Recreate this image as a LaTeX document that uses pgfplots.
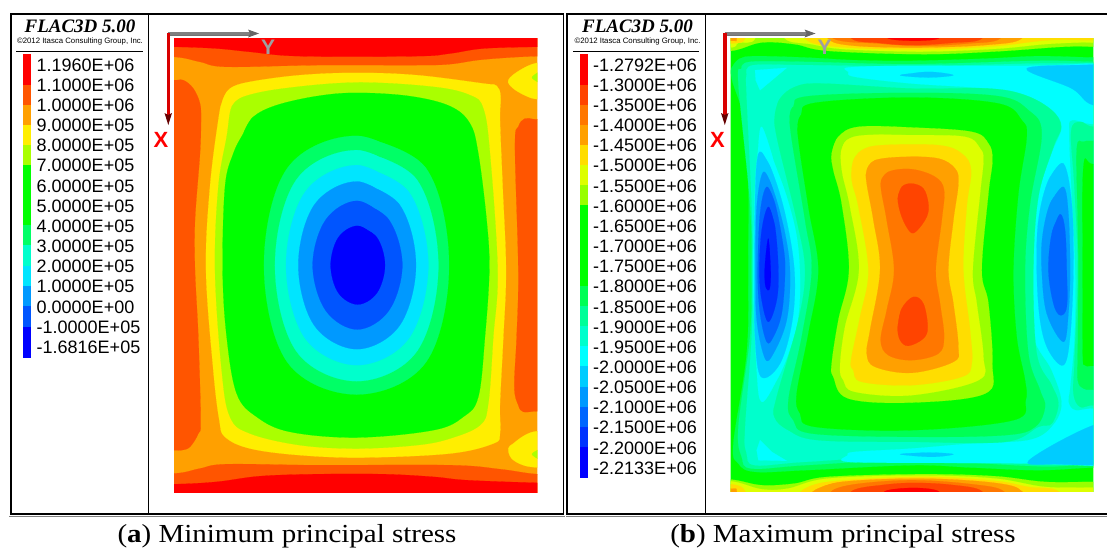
\documentclass[border=0pt]{standalone}
\usepackage{pgfplots}
\pgfplotsset{compat=1.18}
\usepackage{fontspec}
\setmainfont{Liberation Sans}
\newfontfamily\tms{Liberation Serif}
\usetikzlibrary{arrows.meta}
\def\dc#1{\definecolor{h#1}{HTML}{#1}}
\dc{FF0000}\dc{FF5500}\dc{FFA000}\dc{FFEE00}\dc{AAFF00}\dc{00FF00}\dc{00FF66}\dc{00FFCC}\dc{00E5FF}\dc{0099FF}\dc{0055FF}\dc{0000FF}
\dc{FF4400}\dc{FF7700}\dc{FFDD00}\dc{DDFF00}\dc{99FF00}\dc{00FF55}\dc{00FF99}\dc{00FFFF}\dc{00CCFF}\dc{0066FF}\dc{0033FF}
% smooth closed contour region: the first two points are repeated at the end, so the curve closes without a kink
\def\arx#1;(#2)(#3)#4\end{\addplot[fill=h#1,draw=h#1,line width=.15pt,smooth,tension=.6] coordinates {(#2)(#3)#4(#2)(#3)};}
\newcommand\ar[2]{\arx#1;#2\end}
% straight-edged region
\newcommand\pg[2]{\addplot[fill=h#1,draw=h#1,line width=.15pt] coordinates {#2} -- cycle;}
\pgfplotsset{panel/.style={hide axis,scale only axis,y dir=reverse,clip=true,anchor=north west}}
\begin{document}
\begin{tikzpicture}[x=1pt,y=1pt]
\useasboundingbox (0,0) rectangle (1107,-549);
% legends
\begin{axis}[panel,at={(0pt,0pt)},width=1107pt,height=549pt,xmin=0,xmax=1107,ymin=0,ymax=549]
\pg{FF0000}{(23,54)(30,54)(30,85)(23,85)}
\pg{FF5500}{(23,85)(30,85)(30,105)(23,105)}
\pg{FFA000}{(23,105)(30,105)(30,125)(23,125)}
\pg{FFEE00}{(23,125)(30,125)(30,145)(23,145)}
\pg{AAFF00}{(23,145)(30,145)(30,165)(23,165)}
\pg{00FF00}{(23,165)(30,165)(30,225)(23,225)}
\pg{00FF66}{(23,225)(30,225)(30,245)(23,245)}
\pg{00FFCC}{(23,245)(30,245)(30,266)(23,266)}
\pg{00E5FF}{(23,266)(30,266)(30,286)(23,286)}
\pg{0099FF}{(23,286)(30,286)(30,306)(23,306)}
\pg{0055FF}{(23,306)(30,306)(30,327)(23,327)}
\pg{0000FF}{(23,327)(30,327)(30,357)(23,357)}
\pg{FF0000}{(580,54)(587,54)(587,85)(580,85)}
\pg{FF4400}{(580,85)(587,85)(587,105)(580,105)}
\pg{FF7700}{(580,105)(587,105)(587,125)(580,125)}
\pg{FFA000}{(580,125)(587,125)(587,145)(580,145)}
\pg{FFDD00}{(580,145)(587,145)(587,165)(580,165)}
\pg{DDFF00}{(580,165)(587,165)(587,185)(580,185)}
\pg{99FF00}{(580,185)(587,185)(587,205)(580,205)}
\pg{00FF00}{(580,205)(587,205)(587,286)(580,286)}
\pg{00FF55}{(580,286)(587,286)(587,306)(580,306)}
\pg{00FF99}{(580,306)(587,306)(587,326)(580,326)}
\pg{00FFCC}{(580,326)(587,326)(587,346)(580,346)}
\pg{00FFFF}{(580,346)(587,346)(587,366)(580,366)}
\pg{00CCFF}{(580,366)(587,366)(587,387)(580,387)}
\pg{0099FF}{(580,387)(587,387)(587,407)(580,407)}
\pg{0066FF}{(580,407)(587,407)(587,427)(580,427)}
\pg{0033FF}{(580,427)(587,427)(587,447)(580,447)}
\pg{0000FF}{(580,447)(587,447)(587,477)(580,477)}
\end{axis}
% panel (a): minimum principal stress
\begin{axis}[panel,at={(174pt,-38.5pt)},width=363.3pt,height=454pt,xmin=72,xmax=1162,ymin=55,ymax=1417]
\pg{FFA000}{(0,0)(1250,0)(1250,1500)(0,1500)}
\ar{FF5500}{(-100,-100)(1300,-100)(1300,110)(1162,108)(1000,118)(900,132)(800,135)(500,135)(230,140)(150,125)(72,110)(-100,105)}
\ar{FF0000}{(-100,-100)(1300,-100)(1300,80)(1162,80)(1000,85)(900,100)(800,108)(450,108)(300,95)(200,85)(72,80)(-100,80)}
\ar{FF5500}{(-100,1360)(72,1360)(150,1345)(230,1332)(500,1335)(900,1335)(1050,1347)(1162,1362)(1300,1365)(1300,1550)(-100,1550)}
\ar{FF0000}{(-100,1392)(72,1392)(200,1385)(330,1368)(500,1362)(700,1362)(850,1370)(950,1380)(1162,1388)(1300,1390)(1300,1550)(-100,1550)}
\ar{FF5500}{(-50,180)(72,180)(100,180)(130,205)(150,250)(153,300)(150,400)(135,600)(135,750)(145,950)(152,1200)(145,1240)(120,1280)(95,1290)(72,1290)(-50,1290)}
\ar{FF5500}{(1250,298)(1162,298)(1125,295)(1105,320)(1095,380)(1105,750)(1100,950)(1093,1100)(1105,1155)(1120,1175)(1162,1173)(1250,1173)}
\ar{FFEE00}{(1230,128)(1162,128)(1110,150)(1075,180)(1090,205)(1130,228)(1162,237)(1230,240)}
\ar{AAFF00}{(1175,150)(1162,158)(1146,172)(1162,185)(1175,195)}
\ar{FFEE00}{(1230,1233)(1162,1233)(1125,1245)(1090,1270)(1075,1285)(1085,1315)(1120,1335)(1162,1342)(1230,1345)}
\ar{AAFF00}{(1175,1280)(1162,1290)(1146,1302)(1162,1315)(1175,1325)}
\ar{FFEE00}{(218,240)(240,205)(300,185)(450,165)(620,158)(800,165)(1000,190)(1040,197)(1052,230)(1050,300)(1058,500)(1068,750)(1060,950)(1050,1150)(1050,1240)(1030,1270)(900,1300)(640,1312)(450,1305)(300,1285)(225,1250)(208,1200)(190,1050)(168,750)(180,500)(205,300)}
\ar{AAFF00}{(245,260)(280,230)(400,205)(620,187)(850,200)(960,225)(1000,265)(1020,400)(1043,750)(1030,950)(1015,1150)(990,1215)(900,1255)(800,1275)(620,1285)(450,1275)(300,1240)(240,1190)(215,1050)(195,750)(205,500)(230,350)}
\ar{00FF00}{(280,340)(310,290)(380,255)(500,228)(620,218)(780,228)(900,258)(960,310)(985,400)(1010,600)(1018,750)(1005,950)(985,1130)(940,1190)(850,1230)(620,1252)(420,1235)(320,1190)(260,1120)(230,950)(218,750)(225,500)(250,400)}
\ar{00FF66}{(620,347)(828,444)(897,735)(828,1026)(620,1123)(412,1026)(342,735)(412,444)}
\ar{00FFCC}{(620,390)(801,479)(865,736)(801,993)(620,1083)(439,993)(375,736)(439,479)}
\ar{00E5FF}{(621,435)(777,516)(835,735)(777,954)(621,1035)(465,954)(408,735)(465,516)}
\ar{0099FF}{(621,484)(749,554)(798,735)(749,916)(621,987)(493,916)(445,735)(493,554)}
\ar{0055FF}{(622,542)(717,599)(757,735)(717,871)(622,928)(527,871)(488,735)(527,599)}
\ar{0000FF}{(623,617)(681,652)(705,735)(681,818)(623,853)(565,818)(542,735)(565,652)}
\end{axis}
% panel (b): maximum principal stress
\begin{axis}[panel,at={(730.7pt,-38.5pt)},width=362.7pt,height=452.7pt,xmin=77,xmax=1165,ymin=55,ymax=1413]
\pg{00FF00}{(0,0)(1250,0)(1250,1500)(0,1500)}
% outer cool rings
\ar{00FF55}{(85,135)(105,115)(150,108)(300,112)(450,120)(620,122)(850,115)(1000,108)(1165,112)(1280,112)(1280,1345)(1165,1342)(1000,1350)(800,1342)(620,1335)(300,1350)(150,1355)(100,1330)(85,1270)(125,1000)(130,750)(125,350)(80,175)}
\ar{00FF99}{(110,145)(135,125)(300,125)(620,132)(1000,122)(1165,125)(1280,125)(1280,1335)(1165,1332)(1000,1338)(620,1320)(300,1335)(140,1345)(110,1310)(100,1220)(135,950)(140,750)(135,550)(100,190)}
\ar{00FFCC}{(125,160)(145,135)(300,135)(620,138)(1000,130)(1165,130)(1280,130)(1280,1332)(1165,1330)(1000,1332)(620,1310)(300,1325)(150,1335)(125,1300)(120,1230)(140,950)(143,750)(140,550)(125,230)}
\pg{00FFFF}{(152,180)(150,150)(245,143)(165,210)}
\pg{00FFFF}{(155,1290)(165,1260)(200,1295)(245,1322)(160,1320)}
% big cyan C-shape on the right and in the top and bottom bands
\ar{00FFFF}{(429,142)(569,137)(969,137)(1165,130)(1300,130)(1300,310)(1165,312)(1100,300)(1092,340)(1098,500)(1110,750)(1108,950)(1095,1100)(1090,1145)(1110,1170)(1165,1165)(1300,1165)(1300,1340)(1165,1337)(1000,1330)(700,1328)(430,1325)(428,1305)(450,1295)(620,1285)(800,1270)(970,1260)(1040,1220)(1070,1150)(1040,1050)(985,950)(950,750)(990,550)(1040,400)(1070,320)(1040,270)(960,225)(850,205)(620,190)(450,170)(430,155)}
\ar{00CCFF}{(1300,120)(1165,133)(965,145)(1100,205)(1165,255)(1300,260)}
\ar{00CCFF}{(1300,1205)(1165,1215)(970,1322)(1060,1332)(1165,1335)(1300,1340)}
\ar{00CCFF}{(585,165)(670,155)(745,165)(670,172)}
\ar{00CCFF}{(585,1302)(670,1297)(745,1302)(680,1310)}
% left trough
\ar{00FFFF}{(170,320)(205,420)(245,530)(275,650)(285,780)(278,900)(250,1000)(215,1080)(170,1145)(155,1050)(145,780)(150,500)(158,400)}
\ar{00CCFF}{(168,395)(200,450)(240,580)(268,750)(262,900)(225,1030)(168,1070)(150,950)(148,750)(150,550)(155,430)}
\ar{0099FF}{(175,455)(205,510)(240,640)(255,760)(245,900)(205,1000)(180,1015)(155,900)(152,750)(155,560)}
\ar{0066FF}{(185,500)(210,550)(235,680)(240,760)(230,880)(205,950)(185,965)(165,880)(158,760)(165,580)}
\ar{0033FF}{(190,560)(210,620)(220,750)(215,840)(190,905)(170,840)(163,750)(170,630)}
\ar{0000FF}{(190,655)(197,750)(195,800)(188,810)(180,790)(180,730)}
% right trough
\ar{00CCFF}{(1075,430)(1030,480)(1000,600)(995,750)(1005,900)(1030,990)(1075,1035)(1095,950)(1105,750)(1100,550)}
\ar{0099FF}{(1075,500)(1035,550)(1012,650)(1010,750)(1025,880)(1075,965)(1090,880)(1095,750)(1090,580)}
\ar{0066FF}{(1065,582)(1040,640)(1030,750)(1045,850)(1065,885)(1085,860)(1085,750)(1080,630)}
% right strip
\ar{00FF99}{(1280,320)(1165,320)(1125,305)(1098,335)(1108,500)(1118,750)(1108,1030)(1105,1120)(1125,1160)(1165,1155)(1280,1155)}
\ar{00FF55}{(1280,362)(1165,362)(1135,365)(1115,385)(1118,600)(1120,750)(1118,1000)(1118,1080)(1135,1105)(1165,1108)(1280,1108)}
\ar{00FF00}{(1280,432)(1165,432)(1135,440)(1133,750)(1133,1000)(1140,1035)(1165,1037)(1280,1037)}
% central block
\ar{00FF99}{(210,280)(225,235)(270,200)(350,190)(620,205)(850,205)(960,225)(1040,270)(1068,320)(1045,380)(1000,530)(985,750)(995,1000)(1040,1095)(1060,1150)(1040,1210)(1000,1220)(900,1265)(620,1265)(340,1260)(250,1230)(208,1190)(215,1130)(280,900)(300,750)(275,600)(215,350)}
\ar{00FF55}{(255,320)(265,260)(310,228)(620,218)(880,228)(970,270)(1010,340)(975,550)(960,750)(970,1000)(1005,1110)(1020,1160)(990,1220)(900,1245)(620,1250)(320,1240)(265,1200)(250,1140)(290,950)(320,750)(300,600)}
\ar{00FF00}{(278,340)(288,285)(330,248)(620,232)(880,250)(950,300)(965,350)(940,520)(925,750)(935,950)(960,1080)(962,1140)(925,1200)(620,1230)(330,1220)(285,1180)(275,1120)(310,940)(340,750)(310,560)}
% hot core
\ar{99FF00}{(380,400)(400,350)(460,320)(620,322)(800,335)(850,370)(862,420)(850,520)(830,750)(850,850)(862,1030)(840,1120)(620,1147)(430,1135)(385,1070)(380,1030)(400,900)(432,750)(410,550)(385,450)}
\ar{DDFF00}{(408,395)(425,360)(480,345)(620,345)(780,350)(825,385)(835,420)(825,520)(803,750)(815,850)(835,1010)(820,1080)(620,1125)(450,1115)(415,1080)(405,1040)(420,920)(462,750)(435,560)(412,460)}
\ar{FFDD00}{(445,420)(470,390)(530,375)(700,375)(770,400)(798,450)(785,560)(775,750)(795,930)(800,1030)(770,1070)(620,1095)(470,1085)(445,1050)(438,1020)(465,890)(490,750)(460,560)(440,480)}
\ar{FFA000}{(485,450)(510,420)(600,410)(700,415)(750,445)(760,490)(745,600)(730,750)(745,850)(760,980)(745,1025)(620,1058)(510,1040)(485,1000)(495,930)(525,750)(505,600)(485,490)}
\ar{FF7700}{(527,490)(550,455)(620,447)(690,470)(717,510)(710,600)(692,750)(705,850)(717,950)(700,1000)(620,1020)(550,1005)(527,960)(545,870)(567,750)(545,600)}
\ar{FF4400}{(578,535)(590,500)(620,490)(655,505)(670,550)(665,590)(635,632)(615,635)(590,590)}
\ar{FF4400}{(578,920)(590,865)(625,830)(655,850)(668,920)(655,955)(610,977)(585,960)}
% top hot band
\ar{99FF00}{(-50,-50)(1300,-50)(1300,79)(1164,79)(1069,80)(869,94)(649,102)(369,92)(269,72)(169,67)(79,92)(-50,95)}
\ar{DDFF00}{(-50,-50)(150,-50)(150,55)(100,68)(77,82)(-50,85)}
\ar{DDFF00}{(240,-20)(1300,-20)(1300,67)(1164,67)(1119,67)(1019,72)(869,86)(649,94)(419,87)(319,72)(240,55)}
\ar{FFDD00}{(-50,-30)(120,-30)(120,55)(77,70)(-50,75)}
\ar{FFDD00}{(300,-20)(1300,-20)(1300,60)(1165,60)(1030,60)(869,78)(649,88)(399,80)(300,55)}
\ar{FFA000}{(-50,-20)(95,-20)(95,55)(77,62)(-50,65)}
\ar{FFA000}{(369,-10)(949,-10)(949,55)(849,74)(649,82)(449,77)(369,55)}
\ar{FF7700}{(385,-10)(885,-10)(885,55)(789,70)(649,77)(519,70)(385,55)}
\ar{FF4400}{(440,-10)(830,-10)(830,55)(740,68)(620,75)(520,68)(440,55)}
\ar{FF0000}{(550,30)(700,30)(700,55)(630,62)(550,55)}
% bottom hot band
\ar{99FF00}{(-50,1375)(77,1378)(169,1395)(269,1390)(369,1370)(649,1362)(869,1368)(1019,1385)(1164,1385)(1300,1385)(1300,1500)(-50,1500)}
\ar{DDFF00}{(-50,1380)(77,1383)(169,1407)(249,1405)(369,1375)(649,1366)(869,1375)(1019,1400)(1164,1402)(1300,1402)(1300,1500)(1100,1500)(250,1500)(169,1440)(-50,1500)}
\ar{FFDD00}{(-50,1388)(77,1392)(120,1413)(120,1480)(-50,1480)}
\ar{FFDD00}{(289,1413)(369,1385)(649,1370)(869,1382)(969,1400)(1059,1413)(1059,1480)(289,1480)}
\ar{FFA000}{(-50,1402)(77,1405)(95,1413)(95,1470)(-50,1470)}
\ar{FFA000}{(325,1413)(410,1385)(649,1375)(869,1388)(950,1413)(950,1470)(325,1470)}
\ar{FF7700}{(380,1413)(450,1392)(620,1380)(800,1392)(895,1413)(895,1470)(380,1470)}
\ar{FF4400}{(440,1413)(520,1396)(620,1388)(740,1394)(830,1413)(830,1470)(440,1470)}
\ar{FF0000}{(540,1413)(620,1403)(700,1413)(700,1450)(540,1450)}
\end{axis}
% frames
\draw[line width=1.5pt] (11,-14) rectangle (563.5,-514);
\draw[line width=1pt] (148,-14) -- (148,-514);
\draw[line width=1.5pt] (1107,-14) -- (567,-14) -- (567,-514) -- (1107,-514);
\draw[line width=1pt] (705,-14) -- (705,-514);
\draw[line width=.5pt,gray] (9,-516) -- (565,-516);
\draw[line width=.5pt,gray] (566,-516) -- (1107,-516);
\draw[line width=1pt] (16,-51) -- (143,-51);
\draw[line width=1pt] (573,-51) -- (699,-51);
% headers
\foreach \x in {80,637.5}{
\node[inner sep=0pt] at (\x,-26) {\fontsize{19}{20}\selectfont\tms\bfseries\itshape FLAC3D 5.00};
\node[inner sep=0pt] at (\x,-41) {\fontsize{7.8}{8}\selectfont ©2012 Itasca Consulting Group, Inc.};
}
% legend labels
\foreach \t [count=\i from 0] in {1.1960E+06,1.1000E+06,1.0000E+06,9.0000E+05,8.0000E+05,7.0000E+05,6.0000E+05,5.0000E+05,4.0000E+05,3.0000E+05,2.0000E+05,1.0000E+05,0.0000E+00,-1.0000E+05,-1.6816E+05}{
\node[anchor=west,inner sep=0pt] at (36.5,-65-20.15*\i) {\fontsize{18}{20}\selectfont \t};
}
\foreach \t [count=\i from 0] in {-1.2792E+06,-1.3000E+06,-1.3500E+06,-1.4000E+06,-1.4500E+06,-1.5000E+06,-1.5500E+06,-1.6000E+06,-1.6500E+06,-1.7000E+06,-1.7500E+06,-1.8000E+06,-1.8500E+06,-1.9000E+06,-1.9500E+06,-2.0000E+06,-2.0500E+06,-2.1000E+06,-2.1500E+06,-2.2000E+06,-2.2133E+06}{
\node[anchor=west,inner sep=0pt] at (593,-65-20.15*\i) {\fontsize{18}{20}\selectfont \t};
}
% coordinate arrows
\foreach \d in {0,556.5}{
\begin{scope}[xshift=\d]
\draw[line width=2.2pt,gray] (168,-33.5) -- (251,-33.5);
\draw[line width=.8pt,black!55] (168,-35) -- (251,-35);
\fill[black!60] (259,-33.5) -- (248,-29.5) -- (250,-33.5) -- (248,-37.5) -- cycle;
\draw[line width=3.5pt,red!85!black] (168.3,-33) -- (168.3,-115);
\fill[red!40!black] (168.3,-125) -- (164.5,-113) -- (168.3,-115) -- (172,-113) -- cycle;
\node[inner sep=0pt,text=gray!75] at (268,-47.5) {\fontsize{21}{22}\selectfont\bfseries Y};
\node[inner sep=0pt,text=red] at (161,-139.5) {\fontsize{22}{22}\selectfont\bfseries X};
\end{scope}
}
% captions
\node[inner sep=0pt] at (287,-536) {\scalebox{1.115}[1]{\fontsize{26}{26}\selectfont\tms (\textbf{a}) Minimum principal stress}};
\node[inner sep=0pt] at (843,-536) {\scalebox{1.115}[1]{\fontsize{26}{26}\selectfont\tms (\textbf{b}) Maximum principal stress}};
\end{tikzpicture}
\end{document}
